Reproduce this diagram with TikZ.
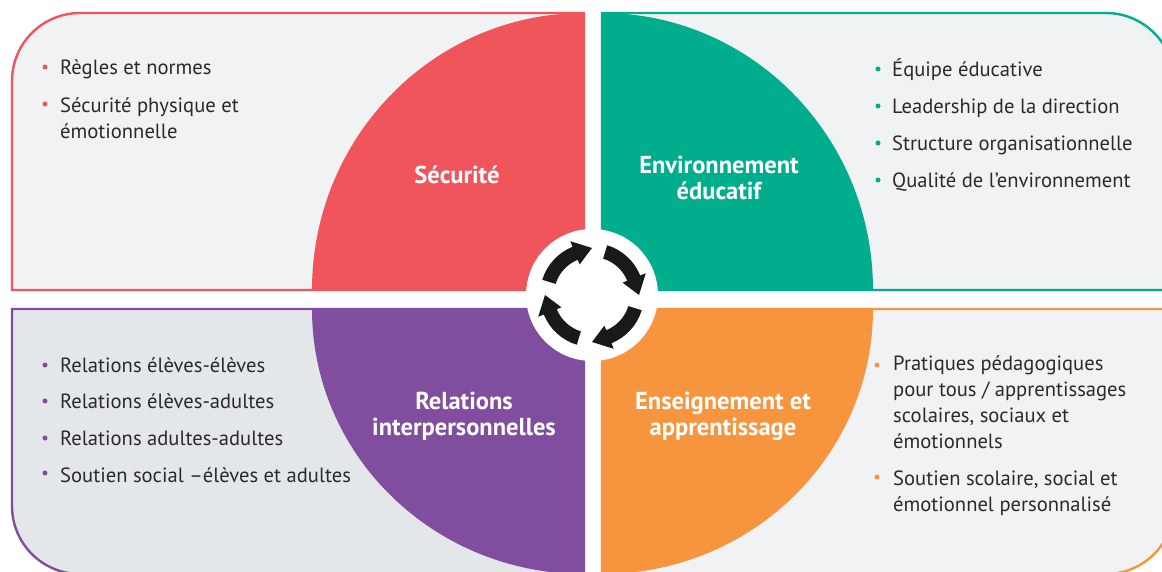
\documentclass[tikz,border=0pt]{standalone}
\usepackage{fontspec}
\setmainfont{PT Sans}
\usepackage{xcolor}
\usetikzlibrary{positioning}
\definecolor{rouge}{HTML}{F0555C}
\definecolor{vert}{HTML}{00AE8E}
\definecolor{violet}{HTML}{814D9E}
\definecolor{orange}{HTML}{F6953D}
\definecolor{encre}{HTML}{2B2A2B}
\definecolor{fondclair}{HTML}{F0F2F3}
\definecolor{fondgris}{HTML}{E4E7EA}
\begin{document}
\begin{tikzpicture}[x=1pt,y=1pt]
        \tikzset{panel/.style={line width=2.4pt,fill=fondclair},
        item/.style={anchor=west,inner sep=0pt,align=left,text=encre,font=\fontsize{20.6}{26}\selectfont},
        titre/.style={inner sep=0pt,align=center,text=white,font=\fontsize{24.5}{26}\selectfont\bfseries},
        puce/.style={circle,inner sep=0pt,minimum size=5pt,fill=#1},
        hubring/.style={circle,fill=white,minimum size=132pt,inner sep=0pt},
        }
        \useasboundingbox (0,0) rectangle (1162,571);
        \clip (0,0) rectangle (1162,571);

%% panels
        \draw[panel,draw=rouge] (584,281) -- (12,281) -- (12,490) arc[start angle=180,end angle=90,radius=68] -- (584,558) -- cycle;
        \draw[panel,draw=vert] (602,281) -- (1174,281) -- (1174,490) arc[start angle=0,end angle=90,radius=68] -- (602,558) -- cycle;
        \draw[panel,draw=violet,fill=fondgris] (584,262) -- (12,262) -- (12,65) arc[start angle=180,end angle=270,radius=68] -- (584,-3) -- cycle;
        \draw[panel,draw=orange] (602,262) -- (1174,262) -- (1174,65) arc[start angle=0,end angle=-90,radius=68] -- (602,-3) -- cycle;

%% quarter discs
        \fill[rouge] (584,281) -- (312,281) arc[start angle=180,end angle=90,x radius=272,y radius=277] -- cycle;
        \fill[vert] (602,281) -- (873,281) arc[start angle=0,end angle=90,x radius=271,y radius=277] -- cycle;
        \fill[violet] (584,262) -- (312,262) arc[start angle=180,end angle=270,x radius=272,y radius=265] -- cycle;
        \fill[orange] (602,262) -- (873,262) arc[start angle=0,end angle=-90,x radius=271,y radius=265] -- cycle;

%% centre
        \node[hubring] (hub) at (592,276) {};
        \foreach \ang in {0,-90,-180,-270}
            \fill[black!90,shift={(hub.center)},rotate=\ang] (163:52) arc[start angle=163,end angle=112,radius=52] -- (112:58) -- (90:47) -- (112:33) -- (112:38) arc[start angle=112,end angle=163,radius=38] -- cycle;

%% titles
        \node[titre] (securite) at (457,396) {Sécurité};
        \node[titre] (environnement) at (719,393) {Environnement\\éducatif};
        \node[titre] (relations) at (464,155) {Relations\\interpersonnelles};
        \node[titre] (enseignement) at (723,155) {Enseignement et\\apprentissage};

%% lists
        \node[item] (regles) at (60,502) {Règles et normes};
        \node[item] (physique) at (60,453) {Sécurité physique et\\émotionnelle};
        \node[item] (equipe) at (892,501) {Équipe éducative};
        \node[item] (leadership) at (892,463) {Leadership de la direction};
        \node[item] (structure) at (892,426) {Structure organisationnelle};
        \node[item] (qualite) at (892,389) {Qualité de l’environnement};
        \node[item] (eleves) at (60,206) {Relations élèves-élèves};
        \node[item] (adultes) at (60,170) {Relations élèves-adultes};
        \node[item] (adadultes) at (60,133) {Relations adultes-adultes};
        \node[item] (soutien) at (60,96) {Soutien social –élèves et adultes};
        \node[item] (pratiques) at (893,169) {Pratiques pédagogiques\\pour tous / apprentissages\\scolaires, sociaux et\\émotionnels};
        \node[item] (perso) at (893,78) {Soutien scolaire, social et\\émotionnel personnalisé};

%% bullets
        \node[puce=rouge] (p1) at (45,504) {};
        \node[puce=rouge] (p2) at (45,467) {};
        \node[puce=vert] (p3) at (878,502) {};
        \node[puce=vert] (p4) at (878,465) {};
        \node[puce=vert] (p5) at (878,428) {};
        \node[puce=vert] (p6) at (878,391) {};
        \node[puce=violet] (p7) at (45,206) {};
        \node[puce=violet] (p8) at (45,170) {};
        \node[puce=violet] (p9) at (45,133) {};
        \node[puce=violet] (p10) at (45,98) {};
        \node[puce=orange] (p11) at (877,206) {};
        \node[puce=orange] (p12) at (877,94) {};
    \end{tikzpicture}
\end{document}
